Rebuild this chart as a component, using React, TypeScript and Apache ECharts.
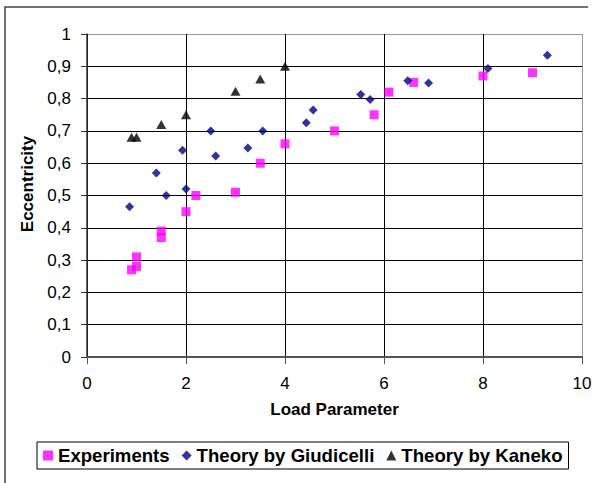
import React, { useEffect, useRef } from "react";
import * as echarts from "echarts";

const seriesNames = ["Experiments", "Theory by Giudicelli", "Theory by Kaneko"];

const expX = [0.9, 1.0, 1.0, 1.5, 1.5, 2.0, 2.2, 3.0, 3.5, 4.0, 5.0, 5.8, 6.1, 6.6, 8.0, 9.0];
const expY = [0.27, 0.28, 0.31, 0.39, 0.37, 0.45, 0.5, 0.51, 0.6, 0.66, 0.7, 0.75, 0.82, 0.85, 0.87, 0.88];

const giuX = [0.86, 1.4, 1.6, 1.93, 2.0, 2.5, 2.6, 3.25, 3.55, 4.43, 4.57, 5.53, 5.72, 6.48, 6.9, 8.1, 9.3];
const giuY = [0.465, 0.57, 0.5, 0.64, 0.52, 0.7, 0.622, 0.647, 0.7, 0.725, 0.765, 0.813, 0.797, 0.855, 0.848, 0.893, 0.934];

const kanX = [0.9, 1.0, 1.5, 2.0, 3.0, 3.5, 4.0];
const kanY = [0.68, 0.68, 0.72, 0.75, 0.823, 0.861, 0.9];

const xTitle = "Load Parameter";
const yTitle = "Eccentricity";

const FONT = "'Liberation Sans', Arial, sans-serif";

function pairs(xs: number[], ys: number[]) {
  return xs.map((x, i) => [x, ys[i]]);
}

export default function App() {
  const ref = useRef<HTMLDivElement>(null);
  useEffect(() => {
    document.body.style.margin = "0";
    const chart = echarts.init(ref.current!, null, { renderer: "svg" });
    const option = {
      animation: false,
      backgroundColor: "#ffffff",
      textStyle: { fontFamily: FONT },
      grid: { left: 87, right: 16, top: 34, bottom: 126, containLabel: false },
      xAxis: {
        type: "value",
        min: 0,
        max: 10,
        interval: 2,
        name: xTitle,
        nameLocation: "middle",
        nameGap: 44,
        nameTextStyle: { fontFamily: FONT, fontSize: 17, fontWeight: "bold", color: "#000" },
        axisLine: { show: true, lineStyle: { color: "#555", width: 2 } },
        axisTick: { show: true, inside: false, length: 7, lineStyle: { color: "#555", width: 1 } },
        axisLabel: { fontFamily: FONT, fontSize: 17, color: "#000", margin: 18 },
        splitLine: {
          show: true,
          lineStyle: { color: ["#000", "#000", "#000", "#000", "#000", "#999"], width: 1 },
        },
      },
      yAxis: {
        type: "value",
        min: 0,
        max: 1,
        interval: 0.1,
        axisLine: { show: true, lineStyle: { color: "#333", width: 1.5 } },
        axisTick: { show: true, inside: false, length: 6, lineStyle: { color: "#333", width: 1 } },
        axisLabel: {
          fontFamily: FONT,
          fontSize: 17,
          color: "#000",
          margin: 16,
          formatter: (v: number) => String(Math.round(v * 10) / 10).replace(".", ","),
        },
        splitLine: {
          show: true,
          lineStyle: {
            color: ["#000", "#000", "#000", "#000", "#000", "#000", "#000", "#000", "#000", "#000", "#999"],
            width: 1,
          },
        },
      },
      legend: {
        left: 37,
        top: 442,
        orient: "horizontal",
        borderColor: "#000",
        borderWidth: 1,
        padding: [4, 6, 4, 6],
        itemGap: 12,
        itemWidth: 10,
        itemHeight: 10,
        textStyle: { fontFamily: FONT, fontSize: 18.6, fontWeight: "bold", color: "#000" },
        data: seriesNames,
      },
      graphic: [
        {
          type: "polyline",
          shape: { points: [[588, 7], [5, 7], [5, 483]] },
          style: { stroke: "#444", lineWidth: 1.5, fill: "none" },
          silent: true,
        },
        {
          type: "text",
          x: 27,
          y: 184,
          rotation: Math.PI / 2,
          style: {
            text: yTitle,
            fontFamily: FONT,
            fontSize: 17,
            fontWeight: "bold",
            fill: "#000",
            textAlign: "center",
            textVerticalAlign: "middle",
            align: "center",
            verticalAlign: "middle",
          },
        },
      ],
      series: [
        {
          name: seriesNames[0],
          type: "scatter",
          symbol: "rect",
          symbolSize: 9,
          itemStyle: { color: "#FF00FF" },
          data: pairs(expX, expY),
        },
        {
          name: seriesNames[1],
          type: "scatter",
          symbol: "diamond",
          symbolSize: 9,
          itemStyle: { color: "#000080" },
          data: pairs(giuX, giuY),
        },
        {
          name: seriesNames[2],
          type: "scatter",
          symbol: "triangle",
          symbolSize: [10, 9],
          itemStyle: { color: "#000000" },
          data: pairs(kanX, kanY),
        },
      ],
    };
    chart.setOption(option);
    return () => chart.dispose();
  }, []);
  return <div ref={ref} style={{ width: 598, height: 483 }} />;
}
